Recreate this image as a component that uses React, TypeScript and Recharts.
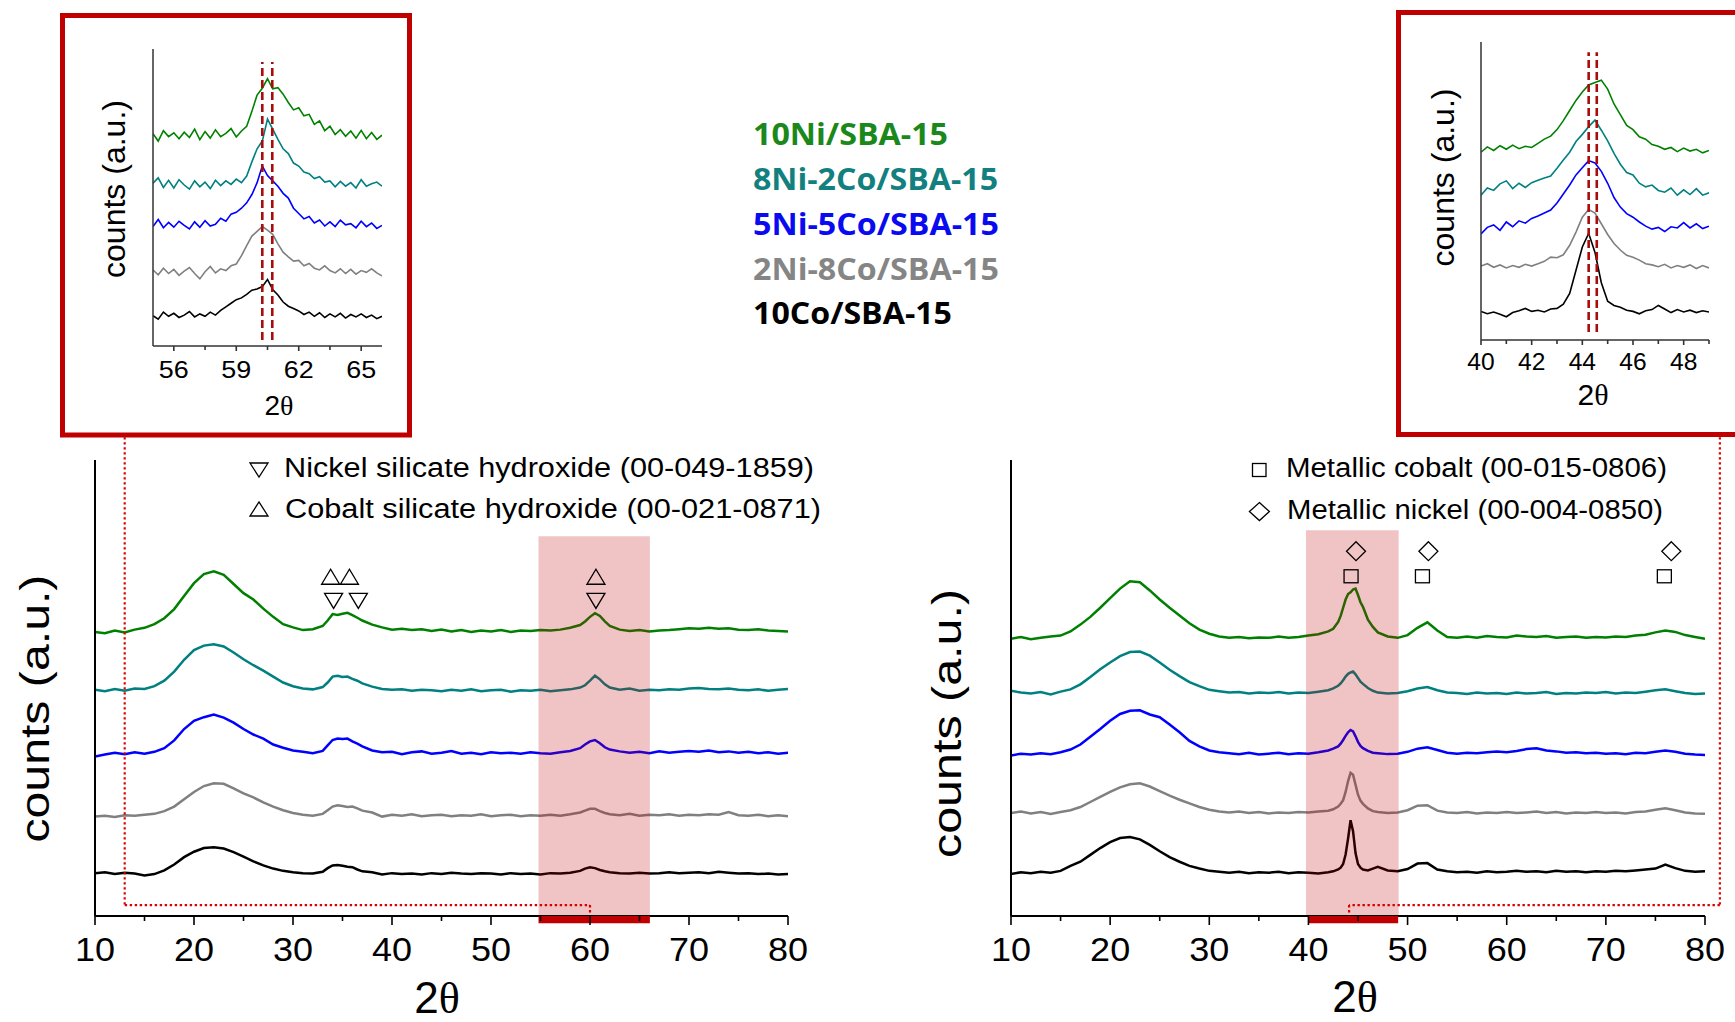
import React from 'react';
import { ComposedChart, Line, XAxis, YAxis, ReferenceArea, ReferenceLine, ReferenceDot } from 'recharts';

const FONT = '"Liberation Sans", Arial, Helvetica, sans-serif';
const SERIF = '"Liberation Serif", "Times New Roman", serif';
const BOLD_FONT = '"Open Sans", "Liberation Sans", Arial, sans-serif';

// ---------- series ----------
const SERIES_NAMES = ['10Ni/SBA-15', '8Ni-2Co/SBA-15', '5Ni-5Co/SBA-15', '2Ni-8Co/SBA-15', '10Co/SBA-15'];
const LINE_COLORS = ['#008000', '#008080', '#0000ff', '#808080', '#000000'];
const NAME_COLORS = ['#1a881a', '#138080', '#0a0af0', '#858585', '#000000'];
const KEYS = ['s0', 's1', 's2', 's3', 's4'];

// ---------- left main chart (silicate hydroxides) ----------
const LEFT_X = [10, 11, 12, 13, 14, 15, 16, 17, 18, 19, 20, 21, 22, 23, 24, 25, 26, 27, 28, 29, 30, 31, 32, 33,
  33.5, 34, 34.5, 35, 35.5, 36, 36.5, 37,
  38, 39, 40, 41, 42, 43, 44, 45, 46, 47, 48, 49, 50, 51, 52, 53, 54, 55, 56, 57, 58, 59,
  59.5, 60, 60.5, 61, 61.5,
  62, 63, 64, 65, 66, 67, 68, 69, 70, 71, 72, 73, 74, 75, 76, 77, 78, 79, 80];
const LEFT_GREEN = [62.3, 62.0, 62.6, 62.2, 62.8, 63.2, 64.0, 65.3, 67.3, 70.2, 73.0, 75.0, 75.6, 74.8, 72.8, 70.8, 69.4, 67.4, 65.6, 64.0, 63.3, 62.7, 62.9, 63.6,
  64.8, 66.2, 66.0, 66.3, 66.5, 66.0, 65.4, 64.8,
  63.9, 63.3, 62.8, 63.0, 62.7, 62.9, 62.5, 62.8, 62.4, 62.7, 62.3, 62.6, 62.4, 62.7, 62.3, 62.6, 62.5, 62.7, 62.6, 62.8, 63.2, 63.8,
  64.6, 65.6, 66.4, 65.8, 64.6,
  63.6, 62.8, 62.5, 62.7, 62.4, 62.6, 62.7, 62.9, 63.1, 63.0, 63.2, 63.0, 63.1, 62.8, 62.7, 62.9, 62.6, 62.5, 62.4];
const LEFT_TEAL = [49.6, 49.3, 49.8, 49.4, 49.9, 49.8, 50.4, 51.6, 53.6, 56.2, 58.3, 59.3, 59.6, 59.1, 57.8, 56.3, 55.0, 53.8, 52.5, 51.2, 50.4, 49.9, 49.7, 50.2,
  51.2, 52.5, 52.7, 52.4, 52.5, 52.0, 51.6, 51.0,
  50.3, 49.8, 49.6, 49.7, 49.4, 49.6, 49.5, 49.3, 49.6, 49.4, 49.7, 49.3, 49.5, 49.6, 49.2, 49.5, 49.4, 49.6, 49.3, 49.5, 49.7, 50.1,
  50.6, 51.6, 52.7, 51.9, 50.8,
  50.1, 49.6, 49.9, 49.4, 49.6, 49.5, 49.7, 49.6, 49.9, 50.0, 49.8, 49.7, 49.9, 49.6, 49.5, 49.7, 49.4, 49.6, 49.8];
const LEFT_BLUE = [35.0, 35.4, 35.8, 35.5, 35.9, 35.6, 36.0, 36.8, 38.5, 41.0, 42.8, 43.6, 44.2, 43.5, 42.4, 41.0, 39.8, 38.9, 37.6, 36.9, 36.3, 36.0, 35.7, 36.2,
  37.4, 38.6, 38.9, 38.8, 38.9, 38.3, 37.8, 37.2,
  36.3, 35.9, 36.0, 35.5, 35.9, 36.1, 35.6, 35.8, 36.2, 35.6, 35.8, 35.5, 35.9, 35.7, 35.8, 35.6, 35.9, 35.7, 35.6, 35.9, 36.2, 36.8,
  37.6, 38.3, 38.6, 37.9, 37.0,
  36.5, 36.1, 35.8, 36.0, 35.7, 36.1, 35.8, 36.0, 36.2, 36.0, 36.3, 35.9, 36.1, 35.8, 36.0, 35.7, 35.9, 35.6, 35.8];
const LEFT_GRAY = [21.8, 22.0, 21.7, 22.1, 22.0, 22.2, 22.4, 23.0, 24.0, 25.6, 27.2, 28.5, 29.1, 29.0, 28.0, 26.9, 26.0, 24.9, 24.0, 23.2, 22.6, 22.2, 22.0, 22.4,
  23.2, 24.0, 24.3, 24.1, 23.9, 24.0, 23.6, 23.1,
  22.7, 21.8, 22.2, 22.0, 22.3, 21.9, 22.1, 22.2, 21.9, 22.1, 22.0, 22.3, 21.9, 22.1, 22.2, 21.9, 22.1, 22.0, 22.2, 22.0, 22.3, 22.7,
  23.1, 23.5, 23.5, 23.0, 22.6,
  22.3, 22.1, 22.4, 22.0, 22.2, 22.1, 22.3, 22.0, 22.2, 22.1, 22.3, 22.2, 22.8, 22.1, 22.0, 22.2, 21.9, 22.1, 21.9];
const LEFT_BLACK = [9.4, 9.6, 9.2, 9.5, 9.3, 8.9, 9.2, 10.0, 11.3, 12.9, 14.1, 14.9, 15.1, 14.8, 14.0, 13.0, 12.0, 11.1, 10.4, 9.9, 9.6, 9.4, 9.3, 9.7,
  10.5, 11.1, 11.2, 11.0, 10.8, 10.7, 10.2, 9.8,
  9.6, 9.1, 9.4, 9.2, 9.3, 9.1, 9.4, 9.2, 9.5, 9.3, 9.2, 9.4, 9.3, 9.1, 9.4, 9.2, 9.3, 9.1, 9.4, 9.3, 9.5, 9.9,
  10.4, 10.7, 10.5, 10.1, 9.8,
  9.6, 9.4, 9.3, 9.5, 9.3, 9.4, 9.6, 9.4, 9.5, 9.6, 9.4, 9.7, 9.5, 9.3, 9.4, 9.2, 9.3, 9.1, 9.2];

// ---------- right main chart (metals) ----------
const RIGHT_X = [10, 11, 12, 13, 14, 15, 16, 17, 18, 19, 20, 21, 22, 23, 24, 25, 26, 27, 28, 29, 30, 31, 32, 33, 34, 35, 36, 37, 38, 39, 40, 41, 42,
  42.5, 43, 43.25, 43.5, 43.75, 44, 44.25, 44.5, 44.75, 45, 45.25, 45.5, 46, 46.5,
  47, 48, 49, 50, 51, 52, 53, 54, 55, 56, 57, 58, 59, 60, 61, 62, 63, 64, 65, 66, 67, 68, 69, 70, 71, 72, 73, 74, 75, 76, 77, 78, 79, 80];
const RIGHT_GREEN = [60.8, 61.2, 60.7, 61.0, 61.3, 61.5, 62.4, 63.9, 65.6, 67.6, 69.7, 71.8, 73.4, 73.2, 71.4, 69.4, 67.6, 65.9, 64.2, 62.8, 61.9, 61.3, 61.0, 61.2, 60.9, 61.1, 61.0, 61.3, 61.0, 61.2, 61.5, 61.8, 62.4,
  63.0, 64.5, 65.8, 67.6, 69.4, 70.6, 71.0, 71.6, 71.8, 70.4, 68.8, 67.8, 65.0, 63.4,
  62.2, 61.3, 61.0, 61.6, 63.2, 64.4, 62.6, 61.2, 61.0, 61.3, 61.0, 61.4, 61.2, 61.1, 61.5, 61.3, 61.2, 61.4, 61.0, 61.2, 61.3, 61.0, 61.2, 61.1, 61.3, 61.2, 61.5, 61.7, 62.2, 62.6, 62.3, 61.6, 61.2, 60.8];
const RIGHT_TEAL = [49.4, 49.0, 48.8, 49.1, 48.6, 49.2, 49.7, 50.8, 52.4, 54.1, 55.6, 57.0, 57.9, 58.0, 57.1, 55.6, 54.0, 52.6, 51.3, 50.4, 49.6, 49.3, 49.0, 49.1, 48.8, 49.0, 48.9, 49.1, 48.8, 49.0, 48.9, 49.2, 49.5,
  49.9, 50.5, 51.0, 51.7, 52.5, 53.1, 53.4, 53.6, 53.0, 52.2, 51.4, 50.9, 50.0, 49.4,
  49.0, 48.8, 48.9, 49.3, 49.9, 50.2, 49.5, 49.0, 48.9, 48.7, 49.0, 48.8, 48.9, 48.7, 49.0, 48.8, 48.9, 49.1, 48.7, 48.9, 48.8, 49.0, 48.9, 49.1, 48.8, 49.0, 48.9, 49.2, 49.5, 49.7, 49.3, 48.9, 48.7, 48.8];
const RIGHT_BLUE = [35.2, 35.6, 35.4, 35.7, 35.5, 35.9, 36.5, 37.6, 39.3, 41.0, 42.8, 44.3, 45.0, 45.1, 44.2, 43.6, 42.0, 40.3, 38.4, 37.2, 36.3, 35.9, 35.7, 35.5, 35.8, 35.4, 35.6, 35.8, 35.5, 35.7, 35.6, 35.9, 36.3,
  36.7, 37.2, 37.8, 38.6, 39.5, 40.3, 40.8, 40.5, 39.4, 38.2, 37.3, 36.8, 36.2, 35.8,
  35.7, 35.5, 35.6, 36.0, 36.7, 37.0, 36.4, 35.8, 35.6, 35.8, 35.7, 35.9, 36.1, 35.9, 36.2, 36.6, 36.8, 36.3, 36.1, 35.8, 35.9, 35.7, 35.8, 35.6, 35.7, 35.5, 35.8, 35.7, 36.0, 36.3, 36.0, 35.6, 35.4, 35.3];
const RIGHT_GRAY = [22.6, 22.9, 22.5, 22.8, 22.4, 22.8, 23.2, 23.9, 25.0, 26.1, 27.2, 28.2, 28.9, 29.1, 28.4, 27.4, 26.4, 25.5, 24.7, 23.9, 23.3, 22.9, 22.7, 22.9, 22.6, 22.8, 22.5, 22.7, 22.6, 22.8, 22.7, 22.9, 23.1,
  23.4, 24.0, 24.6, 25.4, 27.2, 29.6, 31.4, 31.0, 28.8, 26.6, 25.3, 24.6, 23.6, 23.0,
  22.8, 22.6, 22.7, 23.2, 24.2, 24.3, 23.1, 22.7, 22.6, 22.8, 22.5, 22.7, 22.6, 22.8, 22.6, 22.7, 22.9, 22.6, 22.8, 22.5, 22.7, 22.6, 22.8, 22.6, 22.7, 22.5, 22.8, 22.9, 23.3, 23.6, 23.2, 22.7, 22.5, 22.4];
const RIGHT_BLACK = [9.2, 9.6, 9.4, 9.7, 9.5, 9.9, 11.0, 11.9, 13.4, 14.9, 16.2, 17.1, 17.3, 16.8, 15.6, 14.2, 12.9, 11.9, 11.0, 10.4, 9.9, 9.7, 9.5, 9.7, 9.4, 9.6, 9.5, 9.7, 9.4, 9.6, 9.5, 9.3, 9.6,
  9.8, 10.2, 10.6, 11.4, 13.5, 17.0, 21.0, 18.6, 13.8, 11.4, 10.6, 10.2, 10.0, 10.4,
  10.8, 10.0, 9.8, 10.3, 11.5, 11.6, 10.2, 9.8, 9.6, 9.7, 9.5, 9.8, 9.6, 9.7, 9.9, 9.7, 9.8, 9.6, 9.9, 9.7, 9.8, 9.6, 9.8, 9.7, 9.9, 9.8, 10.0, 10.2, 10.4, 11.3, 10.5, 9.9, 9.7, 9.8];

// ---------- left inset (55-66) ----------
const INSET_L_X = [55, 55.25, 55.5, 55.75, 56, 56.25, 56.5, 56.75, 57, 57.25, 57.5, 57.75, 58, 58.25, 58.5, 58.75, 59, 59.25, 59.5, 59.75,
  60, 60.25, 60.5, 60.75, 61, 61.25, 61.5, 61.75, 62, 62.25, 62.5, 62.75, 63, 63.25, 63.5, 63.75, 64, 64.25, 64.5, 64.75, 65, 65.25, 65.5, 65.75, 66];
const INSET_L_GREEN = [71.5, 69.0, 72.5, 70.5, 71.8, 69.8, 72.0, 70.2, 73.0, 69.5, 72.2, 70.0, 72.8, 70.5, 71.6, 73.2, 70.4, 72.4, 74.0, 79.0,
  84.5, 86.8, 90.0, 86.6, 87.0, 84.8, 82.0, 79.5, 80.2, 77.5, 78.0, 74.6, 75.8, 72.5, 74.0, 71.2, 72.8, 70.6, 72.4, 70.0, 72.6, 69.8, 71.9, 69.6, 71.0];
const INSET_L_TEAL = [54.8, 56.6, 53.4, 55.8, 53.2, 56.0, 54.2, 52.8, 55.6, 53.6, 55.2, 53.0, 55.8, 54.0, 55.6, 54.4, 56.2, 55.0, 57.2, 62.0,
  66.4, 69.0, 76.4, 73.0, 69.6, 66.4, 64.8, 61.6, 60.6, 58.6, 58.0, 56.4, 57.0, 55.2, 55.6, 53.6, 55.4, 53.8, 55.0, 53.2, 56.0, 53.8, 54.6, 55.2, 53.8];
const INSET_L_BLUE = [40.2, 42.6, 39.8, 41.6, 40.0, 42.0, 40.6, 39.4, 41.8, 40.0, 42.2, 40.4, 41.0, 43.0, 42.0, 44.4, 45.0, 46.4, 48.2, 51.0,
  55.0, 60.6, 57.4, 55.6, 53.8, 51.4, 49.8, 46.4, 44.6, 42.8, 43.6, 41.4, 42.4, 40.4, 41.8, 40.2, 42.4, 40.8, 41.2, 39.8, 42.0, 40.2, 41.4, 39.6, 40.6];
const INSET_L_GRAY = [25.6, 24.0, 26.2, 24.4, 25.8, 23.8, 25.2, 26.4, 24.4, 22.6, 25.0, 26.8, 24.6, 26.0, 25.4, 27.0, 27.6, 30.4, 33.8, 37.0,
  38.6, 40.2, 39.0, 37.6, 34.4, 31.6, 30.0, 28.6, 28.8, 27.0, 27.8, 26.2, 25.6, 27.0, 25.4, 24.6, 26.0, 24.4, 25.8, 24.2, 25.4, 24.8, 26.0, 24.6, 23.6];
const INSET_L_BLACK = [10.2, 9.0, 11.4, 10.0, 11.0, 9.6, 10.4, 11.6, 9.8, 10.8, 10.0, 11.4, 10.4, 12.0, 13.2, 14.4, 15.6, 16.2, 17.4, 18.8,
  19.2, 20.0, 22.4, 19.0, 17.2, 14.8, 13.4, 12.6, 11.8, 10.6, 11.4, 10.0, 11.2, 9.6, 10.8, 9.8, 11.0, 9.4, 10.6, 9.8, 10.8, 9.6, 10.4, 9.2, 10.0];

// ---------- right inset (40-49) ----------
const INSET_R_X = [40, 40.25, 40.5, 40.75, 41, 41.25, 41.5, 41.75, 42, 42.25, 42.5, 42.75, 43, 43.25, 43.5, 43.75, 44, 44.25, 44.5,
  44.75, 45, 45.25, 45.5, 45.75, 46, 46.25, 46.5, 46.75, 47, 47.25, 47.5, 47.75, 48, 48.25, 48.5, 48.75, 49];
const INSET_R_GREEN = [63.0, 64.8, 63.6, 65.2, 64.0, 65.4, 64.2, 65.0, 64.6, 66.0, 67.4, 68.4, 70.6, 73.6, 77.0, 80.4, 83.2, 85.6, 86.4,
  87.2, 84.2, 79.2, 75.6, 72.0, 70.6, 68.2, 67.4, 65.6, 65.0, 64.0, 64.6, 63.2, 64.4, 63.4, 64.0, 62.8, 63.6];
const INSET_R_TEAL = [48.6, 51.0, 50.2, 52.4, 53.4, 50.8, 52.6, 51.2, 52.8, 53.6, 54.4, 55.0, 57.6, 60.4, 63.0, 66.6, 69.0, 71.6, 73.8,
  70.4, 66.8, 62.6, 59.0, 56.2, 55.4, 52.6, 51.4, 52.0, 50.2, 49.6, 51.0, 48.6, 50.4, 48.8, 50.8, 48.6, 49.4];
const INSET_R_BLUE = [35.6, 37.8, 38.6, 36.8, 39.6, 38.0, 40.0, 39.2, 40.8, 41.6, 42.6, 43.6, 46.0, 49.0, 52.0, 55.4, 57.8, 60.2, 59.4,
  56.6, 52.6, 47.8, 44.6, 42.4, 41.2, 39.6, 38.2, 37.2, 37.8, 36.4, 38.0, 37.6, 39.4, 37.6, 39.0, 37.4, 38.2];
const INSET_R_GRAY = [24.8, 25.6, 24.4, 25.2, 24.2, 25.0, 24.4, 25.4, 24.8, 25.6, 26.4, 27.8, 27.6, 28.6, 31.8, 36.2, 41.2, 43.8, 42.6,
  39.0, 35.4, 32.4, 30.2, 28.4, 27.8, 26.8, 25.6, 25.2, 24.6, 25.4, 24.2, 25.0, 24.4, 25.2, 24.0, 25.0, 24.2];
const INSET_R_BLACK = [9.6, 8.8, 9.4, 8.6, 7.8, 9.2, 9.8, 10.6, 9.6, 10.0, 9.4, 10.4, 10.6, 12.0, 15.6, 23.4, 31.2, 35.8, 29.4,
  19.2, 13.0, 11.6, 11.0, 10.0, 9.6, 8.8, 9.8, 10.2, 11.6, 10.4, 9.2, 10.2, 9.4, 10.0, 9.2, 9.8, 9.4];

// ---------- ticks ----------
const MAIN_TICKS = [10, 15, 20, 25, 30, 35, 40, 45, 50, 55, 60, 65, 70, 75, 80];
const INSET_L_TICKS = [56, 57.5, 59, 60.5, 62, 63.5, 65];
const INSET_R_TICKS = [40, 41, 42, 43, 44, 45, 46, 47, 48, 49];

// ---------- phase markers ----------
const LEFT_UP_X = [33.8, 35.7, 60.6];
const LEFT_UP_Y = 74.4;
const LEFT_DOWN_X = [34.1, 36.6, 60.6];
const LEFT_DOWN_Y = 69.1;
const RIGHT_DIAMOND_X = [44.8, 52.1, 76.6];
const RIGHT_DIAMOND_Y = 80.0;
const RIGHT_SQUARE_X = [44.3, 51.5, 75.9];
const RIGHT_SQUARE_Y = 74.5;

const LEFT_PHASES = ['Nickel silicate hydroxide (00-049-1859)', 'Cobalt silicate hydroxide (00-021-0871)'];
const RIGHT_PHASES = ['Metallic cobalt (00-015-0806)', 'Metallic nickel (00-004-0850)'];

function buildRows(xs: number[], series: number[][]) {
  return xs.map((x, i) => {
    const r: any = { x };
    series.forEach((s, j) => { r[KEYS[j]] = s[i]; });
    return r;
  });
}

const leftRows = buildRows(LEFT_X, [LEFT_GREEN, LEFT_TEAL, LEFT_BLUE, LEFT_GRAY, LEFT_BLACK]);
const rightRows = buildRows(RIGHT_X, [RIGHT_GREEN, RIGHT_TEAL, RIGHT_BLUE, RIGHT_GRAY, RIGHT_BLACK]);
const insetLRows = buildRows(INSET_L_X, [INSET_L_GREEN, INSET_L_TEAL, INSET_L_BLUE, INSET_L_GRAY, INSET_L_BLACK]);
const insetRRows = buildRows(INSET_R_X, [INSET_R_GREEN, INSET_R_TEAL, INSET_R_BLUE, INSET_R_GRAY, INSET_R_BLACK]);

// tick renderer: draws its own tick mark (long for labelled, short for unlabelled) and a stretched label
function makeTick(fontSize: number, dy: number, sx: number, majorLen: number, minorLen: number, stroke: string, show: (v: number) => boolean) {
  return (props: any) => {
    const { x, y, payload } = props;
    const v = payload.value;
    const major = show(v);
    return (
      <g>
        <line x1={x} x2={x} y1={y} y2={y + (major ? majorLen : minorLen)} stroke={stroke} strokeWidth={1.6} />
        {major ? (
          <text transform={`translate(${x},${y + dy}) scale(${sx},1)`} textAnchor="middle" fontSize={fontSize} fontFamily={FONT} fill="#000">
            {v}
          </text>
        ) : null}
      </g>
    );
  };
}

const mainTick = makeTick(34, 45, 1.06, 9, 5, '#000', (v) => v % 10 === 0);
const insetLTick = makeTick(23, 32, 1.17, 5, 4, '#333', (v) => [56, 59, 62, 65].includes(v));
const insetRTick = makeTick(23, 30, 1.07, 5, 4, '#333', (v) => v % 2 === 0 && v < 49);

const triUp = (p: any) => (
  <polygon points={`${p.cx - 9},${p.cy + 7.5} ${p.cx + 9},${p.cy + 7.5} ${p.cx},${p.cy - 7.5}`} fill="none" stroke="#000" strokeWidth={1.3} />
);
const triDown = (p: any) => (
  <polygon points={`${p.cx - 9},${p.cy - 7.5} ${p.cx + 9},${p.cy - 7.5} ${p.cx},${p.cy + 7.5}`} fill="none" stroke="#000" strokeWidth={1.3} />
);
const squareShape = (p: any) => (
  <rect x={p.cx - 7} y={p.cy - 6.5} width={14} height={13} fill="none" stroke="#000" strokeWidth={1.3} />
);
const diamondShape = (p: any) => (
  <polygon points={`${p.cx},${p.cy - 9.5} ${p.cx + 9.5},${p.cy} ${p.cx},${p.cy + 9.5} ${p.cx - 9.5},${p.cy}`} fill="none" stroke="#000" strokeWidth={1.3} />
);

const DOT = { stroke: '#dd0000', strokeWidth: 2.2, strokeDasharray: '2.4 2.6' };

function renderLines(width: number) {
  return KEYS.map((k, i) => (
    <Line key={k} type="linear" dataKey={k} stroke={LINE_COLORS[i]} strokeWidth={width} dot={false} activeDot={false} isAnimationActive={false} />
  ));
}

function LeftMain() {
  return (
    <div style={{ position: 'absolute', left: 0, top: 400 }}>
      <ComposedChart width={830} height={622} data={leftRows} margin={{ top: 60, right: 42, bottom: 40, left: 94 }}>
        <XAxis dataKey="x" type="number" domain={[10, 80]} ticks={MAIN_TICKS} interval={0} allowDataOverflow height={66}
          tickSize={0} tickMargin={0} axisLine={{ stroke: '#000', strokeWidth: 2 }} tickLine={false} tick={mainTick} />
        <YAxis type="number" domain={[0, 100]} allowDataOverflow width={1} tick={false} tickLine={false} axisLine={{ stroke: '#000', strokeWidth: 2 }} />
        {renderLines(2.5)}
        <ReferenceArea x1={54.8} x2={66.05} y1={0} y2={83.3} fill="#c00000" fillOpacity={0.23} stroke="none" ifOverflow="visible" zIndex={450} />
        <ReferenceArea x1={54.8} x2={66.05} y1={-1.6} y2={0} fill="#c00000" fillOpacity={1} stroke="none" ifOverflow="visible" zIndex={550} />
        <ReferenceLine segment={[{ x: 13, y: 105 }, { x: 13, y: 2.4 }]} ifOverflow="visible" {...DOT} />
        <ReferenceLine segment={[{ x: 13, y: 2.4 }, { x: 60, y: 2.4 }]} ifOverflow="visible" {...DOT} />
        <ReferenceLine segment={[{ x: 60, y: 2.4 }, { x: 60, y: 0 }]} ifOverflow="visible" {...DOT} />
        {LEFT_UP_X.map((x, i) => <ReferenceDot key={'u' + i} x={x} y={LEFT_UP_Y} r={8} shape={triUp} ifOverflow="visible" />)}
        {LEFT_DOWN_X.map((x, i) => <ReferenceDot key={'d' + i} x={x} y={LEFT_DOWN_Y} r={8} shape={triDown} ifOverflow="visible" />)}
      </ComposedChart>
    </div>
  );
}

function RightMain() {
  return (
    <div style={{ position: 'absolute', left: 880, top: 400 }}>
      <ComposedChart width={855} height={622} data={rightRows} margin={{ top: 60, right: 30, bottom: 40, left: 130 }}>
        <XAxis dataKey="x" type="number" domain={[10, 80]} ticks={MAIN_TICKS} interval={0} allowDataOverflow height={66}
          tickSize={0} tickMargin={0} axisLine={{ stroke: '#000', strokeWidth: 2 }} tickLine={false} tick={mainTick} />
        <YAxis type="number" domain={[0, 100]} allowDataOverflow width={1} tick={false} tickLine={false} axisLine={{ stroke: '#000', strokeWidth: 2 }} />
        {renderLines(2.5)}
        <ReferenceArea x1={39.75} x2={49.1} y1={0} y2={84.6} fill="#c00000" fillOpacity={0.23} stroke="none" ifOverflow="visible" zIndex={450} />
        <ReferenceArea x1={40} x2={49.05} y1={-1.6} y2={0} fill="#c00000" fillOpacity={1} stroke="none" ifOverflow="visible" zIndex={550} />
        <ReferenceLine segment={[{ x: 81.5, y: 105 }, { x: 81.5, y: 2.4 }]} ifOverflow="visible" {...DOT} />
        <ReferenceLine segment={[{ x: 81.5, y: 2.4 }, { x: 44.1, y: 2.4 }]} ifOverflow="visible" {...DOT} />
        <ReferenceLine segment={[{ x: 44.1, y: 2.4 }, { x: 44.1, y: 0 }]} ifOverflow="visible" {...DOT} />
        {RIGHT_DIAMOND_X.map((x, i) => <ReferenceDot key={'dm' + i} x={x} y={RIGHT_DIAMOND_Y} r={8} shape={diamondShape} ifOverflow="visible" />)}
        {RIGHT_SQUARE_X.map((x, i) => <ReferenceDot key={'sq' + i} x={x} y={RIGHT_SQUARE_Y} r={8} shape={squareShape} ifOverflow="visible" />)}
      </ComposedChart>
    </div>
  );
}

const DASH = { stroke: '#a80c0c', strokeWidth: 2.6, strokeDasharray: '8 4' };

function InsetLeft() {
  return (
    <div style={{ position: 'absolute', left: 100, top: 20 }}>
      <ComposedChart width={300} height={400} data={insetLRows} margin={{ top: 29, right: 18, bottom: 34, left: 52 }}>
        <XAxis dataKey="x" type="number" domain={[55, 66]} ticks={INSET_L_TICKS} interval={0} allowDataOverflow height={40}
          tickSize={0} tickMargin={0} axisLine={{ stroke: '#333', strokeWidth: 1.5 }} tickLine={false} tick={insetLTick} />
        <YAxis type="number" domain={[0, 100]} allowDataOverflow width={1} tick={false} tickLine={false} axisLine={{ stroke: '#333', strokeWidth: 1.5 }} />
        {renderLines(1.6)}
        <ReferenceLine segment={[{ x: 60.25, y: 2 }, { x: 60.25, y: 95.6 }]} ifOverflow="visible" {...DASH} />
        <ReferenceLine segment={[{ x: 60.73, y: 2 }, { x: 60.73, y: 95.6 }]} ifOverflow="visible" {...DASH} />
      </ComposedChart>
    </div>
  );
}

function InsetRight() {
  return (
    <div style={{ position: 'absolute', left: 1420, top: 10 }}>
      <ComposedChart width={315} height={400} data={insetRRows} margin={{ top: 32, right: 26, bottom: 30, left: 60 }}>
        <XAxis dataKey="x" type="number" domain={[40, 49]} ticks={INSET_R_TICKS} interval={0} allowDataOverflow height={40}
          tickSize={0} tickMargin={0} axisLine={{ stroke: '#333', strokeWidth: 1.5 }} tickLine={false} tick={insetRTick} />
        <YAxis type="number" domain={[0, 100]} allowDataOverflow width={1} tick={false} tickLine={false} axisLine={{ stroke: '#333', strokeWidth: 1.5 }} />
        {renderLines(1.6)}
        <ReferenceLine segment={[{ x: 44.25, y: 2.7 }, { x: 44.25, y: 96.6 }]} ifOverflow="visible" {...DASH} />
        <ReferenceLine segment={[{ x: 44.57, y: 2.7 }, { x: 44.57, y: 96.6 }]} ifOverflow="visible" {...DASH} />
      </ComposedChart>
    </div>
  );
}

const LEGEND_BASELINES = [145, 190, 235, 280, 323.5];
const LEGEND_WIDTHS = [195, 245, 246, 246, 199];

function TwoTheta({ x, y, size }: { x: number; y: number; size: number }) {
  return (
    <text x={x} y={y} textAnchor="middle" fontSize={size} fontFamily={FONT} fill="#000">
      2<tspan fontFamily={SERIF}>θ</tspan>
    </text>
  );
}

function Counts({ x, y, size, len }: { x: number; y: number; size: number; len: number }) {
  return (
    <text transform={`translate(${x},${y}) rotate(-90)`} x={-len / 2} y={0} fontSize={size} fontFamily={FONT} fill="#000"
      textLength={len} lengthAdjust="spacingAndGlyphs">
      counts (a.u.)
    </text>
  );
}

function Overlay() {
  return (
    <svg width={1735} height={1022} style={{ position: 'absolute', left: 0, top: 0, pointerEvents: 'none' }}>
      {/* inset frames */}
      <rect x={62.5} y={15.5} width={347} height={419.5} fill="none" stroke="#c00000" strokeWidth={5} />
      <rect x={1398.5} y={12.5} width={400} height={422} fill="none" stroke="#c00000" strokeWidth={5} />

      {/* sample legend */}
      {SERIES_NAMES.map((n, i) => (
        <text key={n} x={753} y={LEGEND_BASELINES[i]} fontFamily={BOLD_FONT} fontWeight={700} fontSize={30} fill={NAME_COLORS[i]}
          textLength={LEGEND_WIDTHS[i]} lengthAdjust="spacingAndGlyphs">{n}</text>
      ))}

      {/* left phase legend */}
      <polygon points="250,463 268,463 259,477" fill="none" stroke="#000" strokeWidth={1.3} />
      <text x={284} y={477.3} fontSize={27} fontFamily={FONT} fill="#000" textLength={530} lengthAdjust="spacingAndGlyphs">{LEFT_PHASES[0]}</text>
      <polygon points="250,516 268,516 259,502" fill="none" stroke="#000" strokeWidth={1.3} />
      <text x={285} y={518.4} fontSize={27} fontFamily={FONT} fill="#000" textLength={536} lengthAdjust="spacingAndGlyphs">{LEFT_PHASES[1]}</text>

      {/* right phase legend */}
      <rect x={1252.5} y={463.5} width={13.5} height={13} fill="none" stroke="#000" strokeWidth={1.3} />
      <text x={1286} y={477.3} fontSize={27} fontFamily={FONT} fill="#000" textLength={381} lengthAdjust="spacingAndGlyphs">{RIGHT_PHASES[0]}</text>
      <polygon points="1259.4,502.6 1269.4,511.6 1259.4,520.6 1249.4,511.6" fill="none" stroke="#000" strokeWidth={1.3} />
      <text x={1287} y={519} fontSize={27} fontFamily={FONT} fill="#000" textLength={376} lengthAdjust="spacingAndGlyphs">{RIGHT_PHASES[1]}</text>

      {/* axis titles */}
      <Counts x={49} y={708.6} size={40} len={268} />
      <Counts x={961} y={723.5} size={40} len={269} />
      <Counts x={125} y={189} size={31} len={178} />
      <Counts x={1453.5} y={177.5} size={31} len={178} />
      <TwoTheta x={437} y={1013} size={44} />
      <TwoTheta x={1355} y={1012} size={44} />
      <TwoTheta x={279} y={415} size={28} />
      <TwoTheta x={1593} y={405} size={30} />
    </svg>
  );
}

export default function App() {
  return (
    <div style={{ position: 'absolute', left: 0, top: 0, width: 1735, height: 1022, background: '#fff', overflow: 'hidden' }}>
      <style>{`.recharts-surface{overflow:visible}`}</style>
      <InsetLeft />
      <InsetRight />
      <LeftMain />
      <RightMain />
      <Overlay />
    </div>
  );
}
